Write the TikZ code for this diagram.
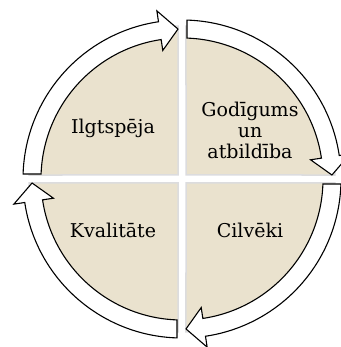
\documentclass[tikz,border=0pt]{standalone}
\usepackage{fontspec}
\setmainfont{DejaVu Serif}
\usepackage{xcolor}
\usepackage{tikz}
\usetikzlibrary{positioning}
\definecolor{quadfill}{RGB}{234,226,206}
\definecolor{quadedge}{RGB}{220,220,222}
\tikzstyle{quad} = [fill=quadfill, draw=quadedge, line width=1.5pt]
\tikzstyle{cyclearrow} = [fill=white, draw=black, line width=1.1pt, line join=miter]
\tikzstyle{quadtext} = [text centered, align=center, inner sep=0pt]

\begin{document}
\begin{tikzpicture}[x=1pt, y=1pt, font=\fontsize{19}{21}\selectfont]
    \useasboundingbox (-182,-168) rectangle (158,179);

    % four quarter pies, drawn for the top right one and turned
    \foreach \turn in {0,90,180,270} {
      \begin{scope}[rotate=\turn]
        \draw[quad] (4,4) -- ({90-asin(4/153)}:153)
          arc[start angle={90-asin(4/153)}, end angle={asin(4/153)}, radius=153] -- cycle;
      \end{scope}
    }

    % curved arrows round the cycle (clockwise)
    \foreach \turn in {0,90,180,270} {
      \begin{scope}[rotate=\turn]
        \draw[cyclearrow] ({90-asin(5/159)}:159)
          arc[start angle={90-asin(5/159)}, end angle=8.5, radius=159]
          -- (8.5:170) -- ({asin(4/150)}:150) -- (8.5:130) -- (8.5:141)
          arc[start angle=8.5, end angle={90-asin(5/141)}, radius=141] -- cycle;
      \end{scope}
    }

    \node[quadtext] (ilgtspeja) at (-69,51) {Ilgtspēja};
    \node[quadtext] (godigums) at (68,49) {Godīgums\\un\\atbildība};
    \node[quadtext] (kvalitate) at (-69,-51) {Kvalitāte};
    \node[quadtext] (cilveki) at (68,-51) {Cilvēki};
\end{tikzpicture}
\end{document}
